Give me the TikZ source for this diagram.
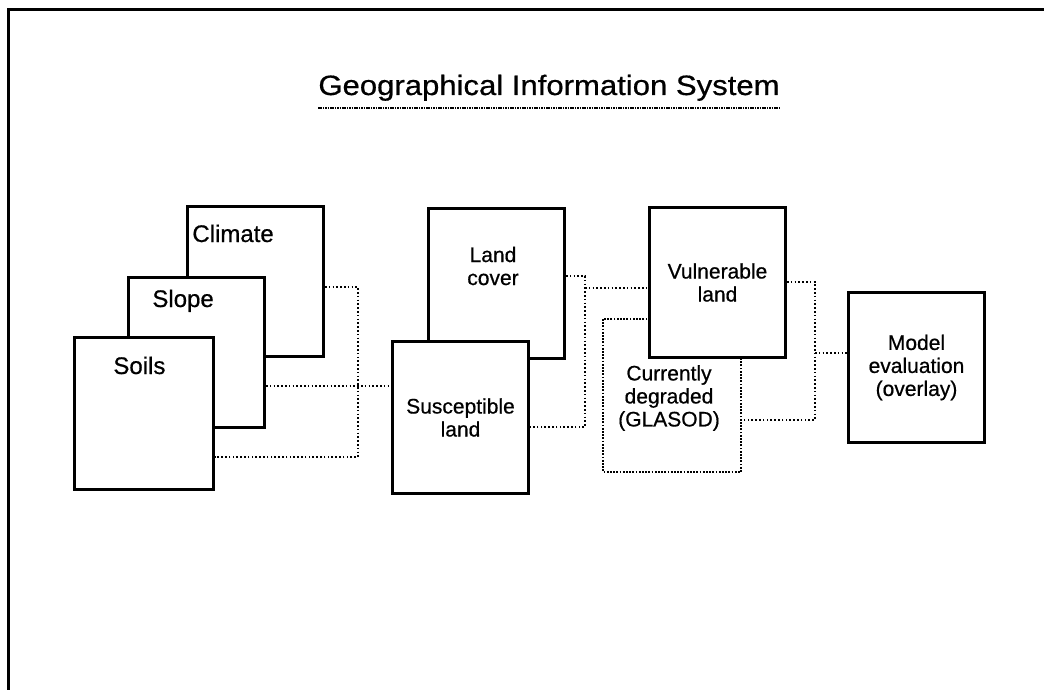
\documentclass[tikz,border=0pt]{standalone}
\usepackage{fontspec}
\setmainfont{Liberation Sans}[FakeBold=0.6]
\usepackage{graphicx}
\tikzset{
  layer/.style={draw, fill=white, line width=1.5pt, anchor=north west, inner sep=0pt,
    minimum width=68pt, minimum height=75pt, align=center,
    font=\fontsize{10.5}{11.5}\selectfont},
  biglabel/.style={anchor=base west, inner sep=0pt, font=\fontsize{12}{14}\selectfont},
  smalllabel/.style={inner sep=0pt, align=center, font=\fontsize{10.5}{11.5}\selectfont},
  link/.style={line width=1pt, dash pattern=on 0.8pt off 1.1pt},
}
\begin{document}
\begin{tikzpicture}[x=0.5pt, y=-0.5pt]
\useasboundingbox (0,0) rectangle (1044,690);
% frame
\draw[line width=1.5pt] (8,690) -- (8,10) -- (1044,10);
% title
\node[anchor=base west, inner sep=0pt, font=\fontsize{14}{16}\selectfont] (title) at (318,95)
  {\scalebox{1.11}[1]{Geographical Information System}};
\draw[line width=1.3pt, dash pattern=on 0.8pt off 0.4pt]
  ([yshift=-6.5pt]title.base west) -- ([yshift=-6.5pt]title.base east);
% input layers
\node[layer] (climate) at (186,205) {};
\node[biglabel] (climatetxt) at (192,242) {Climate};
\node[layer] (slope) at (127,276) {};
\node[biglabel] (slopetxt) at (152,307) {Slope};
\node[layer, minimum width=69.5pt, minimum height=76pt] (soils) at (73,336) {};
\node[biglabel] (soilstxt) at (113,374) {Soils};
% susceptible + land cover
\node[layer] (landcover) at (427,207) {};
\node[smalllabel] (landcovertxt) at (493,266) {Land\\cover};
\node[layer, minimum height=76pt] (suscept) at (391,340) {Susceptible\\land};
% vulnerable + degraded
\node[layer, draw=none, minimum width=67.5pt] (degraded) at (603,319) {};
\draw[line width=1.4pt, dash pattern=on 0.9pt off 0.7pt] (degraded.north west) rectangle (degraded.south east);
\node[smalllabel] (degradedtxt) at (669,398) {Currently\\degraded\\(GLASOD)};
\node[layer] (vulner) at (648,206) {Vulnerable\\land};
% output
\node[layer] (model) at (847,291) {Model\\evaluation\\(overlay)};
% links
\coordinate (bus1t) at (358,287);
\coordinate (bus1m) at (358,386);
\coordinate (bus1b) at (358,457);
\draw[link] (climate.east |- bus1t) -- (bus1t) -- (bus1b) -- (soils.east |- bus1b);
\draw[link] (slope.east |- bus1m) -- (suscept.west |- bus1m);
\coordinate (bus2t) at (585,276);
\coordinate (bus2m) at (585,288);
\coordinate (bus2b) at (585,427);
\draw[link] (landcover.east |- bus2t) -- (bus2t) -- (bus2b) -- (suscept.east |- bus2b);
\draw[link] (bus2m) -- (vulner.west |- bus2m);
\coordinate (bus3t) at (815,282);
\coordinate (bus3m) at (815,353);
\coordinate (bus3b) at (815,420);
\draw[link] (vulner.east |- bus3t) -- (bus3t) -- (bus3b) -- (degraded.east |- bus3b);
\draw[link] (bus3m) -- (model.west |- bus3m);
\end{tikzpicture}
\end{document}
